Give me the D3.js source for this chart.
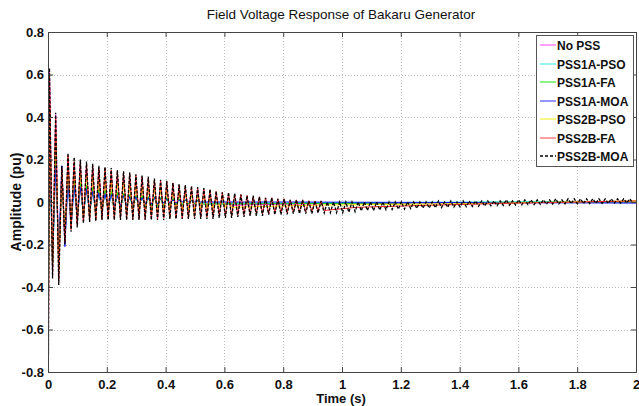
<!DOCTYPE html>
<html>
<head>
  <meta charset="utf-8">
  <title>Field Voltage Response of Bakaru Generator</title>
  <script src="https://cdn.jsdelivr.net/npm/d3@7"></script>
  <style>
    body { margin: 0; background: #fff; }
    text { font-family: "Liberation Sans", Arial, sans-serif; }
  </style>
</head>
<body>
<script>

// axis ticks
var xTicks = [0, 0.2, 0.4, 0.6, 0.8, 1, 1.2, 1.4, 1.6, 1.8, 2];
var yTicks = [-0.8, -0.6, -0.4, -0.2, 0, 0.2, 0.4, 0.6, 0.8];

// legend entries, in drawing order
var seriesNames = ["No PSS", "PSS1A-PSO", "PSS1A-FA", "PSS1A-MOA", "PSS2B-PSO", "PSS2B-FA", "PSS2B-MOA"];
var seriesColors = ["#ff00ff", "#00e5e5", "#00e000", "#1010ff", "#f0f000", "#ff2020", "#000000"];
var legendColors = ["#ff80ff", "#70f0f0", "#60f060", "#7070ff", "#f5f560", "#ff8080", "#000000"];

// the swing repeats about every 0.021 s, first peak at 0.005 s
var firstPeak = 0.005;
var period = 0.021;

// first dip right after t = 0, one per series
var startDips = [-0.68, -0.45, -0.5, -0.4, -0.6, -0.7, -0.72];

// peak / trough of each swing
var noPssPeaks = [0.62, 0.41, 0.15, 0.20, 0.18, 0.17, 0.16, 0.15, 0.14, 0.13, 0.12, 0.11, 0.10, 0.095, 0.09, 0.08, 0.075, 0.07, 0.065, 0.06, 0.055, 0.05, 0.045, 0.04, 0.035, 0.03, 0.03, 0.025, 0.02, 0.02];
var noPssTroughs = [-0.33, -0.30, -0.17, -0.12, -0.10, -0.09, -0.08, -0.075, -0.07, -0.065, -0.06, -0.055, -0.05, -0.05, -0.045, -0.04, -0.04, -0.035, -0.035, -0.03, -0.03, -0.03, -0.025, -0.025, -0.02, -0.02, -0.02, -0.015, -0.015, -0.015];
var noPssTail = [[0.8, -0.01], [1.3, -0.005], [2, 0]];

var pss1aPsoPeaks = [0.35, 0.24, 0.12, 0.11, 0.09, 0.08, 0.07, 0.06, 0.055, 0.05, 0.045, 0.04, 0.035, 0.03, 0.03, 0.025, 0.025, 0.02, 0.02, 0.015, 0.015, 0.01, 0.01, 0.01, 0.005];
var pss1aPsoTroughs = [-0.30, -0.26, -0.15, -0.09, -0.07, -0.06, -0.05, -0.045, -0.04, -0.035, -0.03, -0.03, -0.025, -0.025, -0.02, -0.02, -0.02, -0.015, -0.015, -0.015, -0.01, -0.01, -0.01, -0.01, -0.005];
var pss1aPsoTail = [[0.8, -0.005], [1.5, 0], [2, 0.002]];

var pss1aFaPeaks = [0.38, 0.26, 0.13, 0.12, 0.10, 0.09, 0.08, 0.07, 0.06, 0.055, 0.05, 0.045, 0.04, 0.035, 0.03, 0.03, 0.025, 0.025, 0.02, 0.02, 0.015, 0.015, 0.01, 0.01, 0.01];
var pss1aFaTroughs = [-0.31, -0.27, -0.16, -0.10, -0.08, -0.07, -0.06, -0.05, -0.045, -0.04, -0.035, -0.035, -0.03, -0.03, -0.025, -0.025, -0.02, -0.02, -0.02, -0.015, -0.015, -0.015, -0.01, -0.01, -0.01];
var pss1aFaTail = [[0.8, -0.008], [1.5, -0.002], [2, 0]];

var pss1aMoaPeaks = [0.30, 0.17, 0.17, 0.10, 0.08, 0.07, 0.06, 0.05, 0.045, 0.04, 0.035, 0.03, 0.03, 0.025, 0.025, 0.02, 0.02, 0.02, 0.015, 0.015, 0.01, 0.01, 0.01, 0.005, 0.005];
var pss1aMoaTroughs = [-0.28, -0.22, -0.21, -0.12, -0.08, -0.06, -0.05, -0.04, -0.035, -0.03, -0.025, -0.02, -0.02, -0.015, -0.015, -0.01, -0.01, -0.01, -0.005, -0.005, -0.005, 0, 0, 0, 0];
var pss1aMoaTail = [[0.8, 0], [1.5, -0.003], [2, -0.005]];

var pss2bPsoPeaks = [0.50, 0.33, 0.14, 0.17, 0.15, 0.14, 0.13, 0.12, 0.115, 0.11, 0.10, 0.095, 0.09, 0.085, 0.08, 0.075, 0.07, 0.065, 0.06, 0.055, 0.05, 0.045, 0.04, 0.035, 0.03, 0.03, 0.025, 0.02, 0.02, 0.015];
var pss2bPsoTroughs = [-0.30, -0.32, -0.16, -0.11, -0.09, -0.08, -0.075, -0.07, -0.07, -0.065, -0.065, -0.06, -0.06, -0.055, -0.055, -0.05, -0.05, -0.045, -0.045, -0.04, -0.04, -0.04, -0.035, -0.035, -0.03, -0.03, -0.03, -0.025, -0.025, -0.025];
var pss2bPsoTail = [[0.9, -0.015], [1.4, -0.008], [2, 0.005]];

var pss2bFaPeaks = [0.60, 0.40, 0.16, 0.22, 0.19, 0.19, 0.18, 0.17, 0.16, 0.16, 0.15, 0.145, 0.14, 0.13, 0.125, 0.12, 0.11, 0.105, 0.10, 0.095, 0.09, 0.08, 0.075, 0.07, 0.065, 0.06, 0.055, 0.05, 0.045, 0.04, 0.035, 0.035, 0.03, 0.025, 0.025, 0.02, 0.02, 0.015, 0.015, 0.01, 0.01, 0.01, 0.005, 0.005, 0.005];
var pss2bFaTroughs = [-0.34, -0.37, -0.19, -0.13, -0.11, -0.095, -0.09, -0.085, -0.08, -0.08, -0.08, -0.08, -0.08, -0.08, -0.08, -0.08, -0.08, -0.08, -0.075, -0.075, -0.075, -0.075, -0.075, -0.07, -0.07, -0.07, -0.07, -0.065, -0.065, -0.065, -0.06, -0.06, -0.06, -0.055, -0.055, -0.055, -0.05, -0.05, -0.05, -0.048, -0.046, -0.045, -0.044, -0.042, -0.04];
var pss2bFaTail = [[1.05, -0.025], [1.3, -0.015], [1.6, -0.005], [2, 0.005]];

var pss2bMoaPeaks = [0.63, 0.42, 0.17, 0.23, 0.21, 0.20, 0.19, 0.18, 0.17, 0.165,
  0.16, 0.15, 0.145, 0.14, 0.13, 0.125, 0.12, 0.11, 0.105, 0.10,
  0.09, 0.085, 0.08, 0.075, 0.07, 0.065, 0.06, 0.05, 0.045, 0.045,
  0.04, 0.035, 0.03, 0.03, 0.025, 0.02, 0.02, 0.015, 0.015, 0.01,
  0.01, 0.01, 0.005, 0.005, 0.005, 0, 0, 0, 0, 0,
  0, 0, 0, 0, 0, 0, 0, 0, 0, 0,
  0, 0, 0, 0.005, 0, 0.005, 0, 0.005, 0.005, 0.005,
  0.005, 0.005, 0.005, 0.005, 0.01, 0.005, 0.01, 0.01, 0.01, 0.01,
  0.01, 0.01, 0.015, 0.01, 0.015, 0.015, 0.015, 0.015, 0.015, 0.015,
  0.015, 0.015, 0.015, 0.015, 0.015];
var pss2bMoaTroughs = [-0.36, -0.39, -0.20, -0.14, -0.12, -0.10, -0.095, -0.09, -0.085, -0.085,
  -0.085, -0.085, -0.085, -0.085, -0.085, -0.085, -0.085, -0.085, -0.085, -0.08,
  -0.08, -0.08, -0.08, -0.08, -0.08, -0.08, -0.08, -0.075, -0.075, -0.075,
  -0.07, -0.07, -0.065, -0.065, -0.065, -0.06, -0.06, -0.06, -0.058, -0.055,
  -0.055, -0.055, -0.055, -0.052, -0.052, -0.05, -0.05, -0.05, -0.048, -0.045,
  -0.042, -0.04, -0.04, -0.038, -0.036, -0.035, -0.034, -0.033, -0.031, -0.03,
  -0.029, -0.028, -0.027, -0.026, -0.025, -0.024, -0.023, -0.022, -0.021, -0.02,
  -0.019, -0.018, -0.017, -0.016, -0.015, -0.014, -0.013, -0.012, -0.012, -0.011,
  -0.01, -0.01, -0.009, -0.009, -0.008, -0.008, -0.007, -0.007, -0.006, -0.006,
  -0.006, -0.005, -0.005, -0.005, -0.005];
var pss2bMoaTail = [];

var allPeaks = [noPssPeaks, pss1aPsoPeaks, pss1aFaPeaks, pss1aMoaPeaks, pss2bPsoPeaks, pss2bFaPeaks, pss2bMoaPeaks];
var allTroughs = [noPssTroughs, pss1aPsoTroughs, pss1aFaTroughs, pss1aMoaTroughs, pss2bPsoTroughs, pss2bFaTroughs, pss2bMoaTroughs];
var allTails = [noPssTail, pss1aPsoTail, pss1aFaTail, pss1aMoaTail, pss2bPsoTail, pss2bFaTail, pss2bMoaTail];

// page size and plot box
var w = 639;
var h = 406;
var plotLeft = 48, plotRight = 636, plotTop = 32, plotBottom = 372;

var svg = d3.select("body")
  .append("svg")
  .attr("width", w)
  .attr("height", h);

var x = d3.scaleLinear().domain([0, 2]).range([plotLeft, plotRight]);
var y = d3.scaleLinear().domain([-0.8, 0.8]).range([plotBottom, plotTop]);

// grid lines
svg.selectAll(".vgrid")
  .data(xTicks.slice(1, -1))
  .enter()
  .append("line")
  .attr("x1", function(d){ return Math.round(x(d)) + 0.5; })
  .attr("x2", function(d){ return Math.round(x(d)) + 0.5; })
  .attr("y1", plotTop)
  .attr("y2", plotBottom)
  .attr("stroke", "#bdbdbd")
  .attr("stroke-width", 1)
  .attr("stroke-dasharray", "1,2");

svg.selectAll(".hgrid")
  .data(yTicks.slice(1, -1))
  .enter()
  .append("line")
  .attr("x1", plotLeft)
  .attr("x2", plotRight)
  .attr("y1", function(d){ return Math.round(y(d)) + 0.5; })
  .attr("y2", function(d){ return Math.round(y(d)) + 0.5; })
  .attr("stroke", "#bdbdbd")
  .attr("stroke-width", 1)
  .attr("stroke-dasharray", "1,2");

// clip the traces to the plot box
svg.append("clipPath")
  .attr("id", "plotClip")
  .append("rect")
  .attr("x", plotLeft)
  .attr("y", plotTop)
  .attr("width", plotRight - plotLeft)
  .attr("height", plotBottom - plotTop);

// turn each series into its list of [t, value] turning points
var seriesData = seriesNames.map(function(name, s){
  var pts = [[0, 0], [0.0015, startDips[s]]];
  allPeaks[s].forEach(function(p, i){
    var t = firstPeak + i * period;
    pts.push([t, p]);
    pts.push([t + period / 2, allTroughs[s][i]]);
  });
  allTails[s].forEach(function(p){ pts.push(p); });
  return { name: name, color: seriesColors[s], key: legendColors[s], points: pts };
});

var line = d3.line()
  .x(function(d){ return x(d[0]); })
  .y(function(d){ return y(d[1]); });

svg.append("g")
  .attr("clip-path", "url(#plotClip)")
  .selectAll("path")
  .data(seriesData)
  .enter()
  .append("path")
  .attr("d", function(d){ return line(d.points); })
  .attr("fill", "none")
  .attr("stroke", function(d){ return d.color; })
  .attr("stroke-width", function(d){ return d.name == "PSS2B-MOA" ? 1.3 : 1; })
  .attr("stroke-dasharray", function(d){ return d.name == "PSS2B-MOA" ? "3,1.5" : null; });

// axes with inward ticks, box all round
var xAxis = d3.axisBottom(x).tickValues(xTicks).tickSize(-5).tickPadding(8)
  .tickFormat(function(d){ return String(d); });
var yAxis = d3.axisLeft(y).tickValues(yTicks).tickSize(-5).tickPadding(4)
  .tickFormat(function(d){ return String(d); });

svg.append("g").attr("class", "axis").attr("transform", "translate(0," + plotBottom + ")").call(xAxis);
svg.append("g").attr("class", "axis").attr("transform", "translate(" + plotLeft + ",0)").call(yAxis);
svg.append("g").attr("class", "axis").attr("transform", "translate(0," + plotTop + ")")
  .call(d3.axisTop(x).tickValues(xTicks).tickSize(-5).tickFormat(""));
svg.append("g").attr("class", "axis").attr("transform", "translate(" + plotRight + ",0)")
  .call(d3.axisRight(y).tickValues(yTicks).tickSize(-5).tickFormat(""));

svg.selectAll(".axis .domain").attr("stroke", "#444");
svg.selectAll(".axis .tick line").attr("stroke", "#444");
svg.selectAll(".axis .tick text")
  .attr("font-family", "Liberation Sans, Arial, sans-serif")
  .attr("font-size", "13px")
  .attr("font-weight", "bold")
  .attr("fill", "#111");

// titles
svg.append("text")
  .attr("x", 341)
  .attr("y", 19)
  .attr("text-anchor", "middle")
  .attr("font-size", "13.5px")
  .attr("fill", "#111")
  .text("Field Voltage Response of Bakaru Generator");

svg.append("text")
  .attr("x", 341)
  .attr("y", 403)
  .attr("text-anchor", "middle")
  .attr("font-size", "13px")
  .attr("font-weight", "bold")
  .attr("fill", "#111")
  .text("Time (s)");

svg.append("text")
  .attr("transform", "translate(21," + y(0) + ") rotate(-90)")
  .attr("text-anchor", "middle")
  .attr("font-size", "14px")
  .attr("font-weight", "bold")
  .attr("fill", "#111")
  .text("Amplitude (pu)");

// legend
var legend = svg.append("g");
legend.append("rect")
  .attr("x", 536.5)
  .attr("y", 35.5)
  .attr("width", 97)
  .attr("height", 131)
  .attr("fill", "#fff")
  .attr("stroke", "#555")
  .attr("stroke-width", 1);

var rows = legend.selectAll(".row")
  .data(seriesData)
  .enter()
  .append("g")
  .attr("class", "row")
  .attr("transform", function(d, i){ return "translate(0," + Math.round(45 + i * 18.5) + ")"; });

rows.append("line")
  .attr("x1", 540)
  .attr("x2", 556)
  .attr("y1", 0)
  .attr("y2", 0)
  .attr("stroke", function(d){ return d.key; })
  .attr("stroke-width", 1.5)
  .attr("stroke-dasharray", function(d){ return d.name == "PSS2B-MOA" ? "3,2" : null; });

rows.append("text")
  .attr("x", 557)
  .attr("y", 4.5)
  .attr("font-size", "12px")
  .attr("font-weight", "bold")
  .attr("fill", "#111")
  .text(function(d){ return d.name; });

</script>
</body>
</html>
